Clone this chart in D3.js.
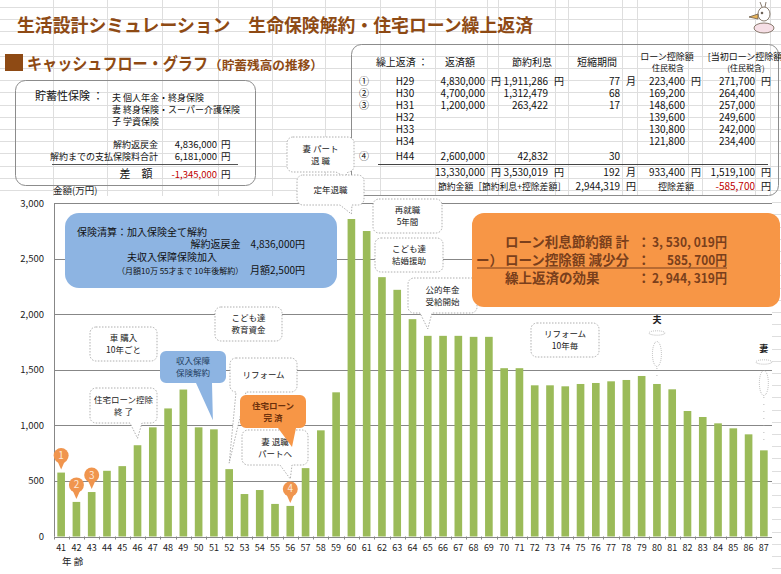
<!DOCTYPE html>
<html>
<head>
<meta charset="utf-8">
<script src="https://cdn.jsdelivr.net/npm/d3@7"></script>
<style>
  html, body { margin: 0; padding: 0; background: #fff; }
  svg { display: block; font-family: "Noto Sans CJK JP", "Noto Sans", sans-serif; }
</style>
</head>
<body>
<div id="chart"></div>
<script>
// ages (x categories) and savings balance in 万円
const ages = [41,42,43,44,45,46,47,48,49,50,51,52,53,54,55,56,57,58,59,60,61,62,63,64,
              65,66,67,68,69,70,71,72,73,74,75,76,77,78,79,80,81,82,83,84,85,86,87];
const balance = [575,311,400,591,633,821,982,1152,1322,982,964,606,382,418,293,275,615,955,1297,2856,
                 2748,2333,2219,1955,1805,1805,1805,1796,1796,1514,1514,1360,1360,1351,1372,1381,1396,1408,1444,1372,
                 1324,1129,1075,1018,973,919,775];
const yTicks = [0, 500, 1000, 1500, 2000, 2500, 3000];

// prepayment table
const repayMarks = ["①","②","③","","","","④"];
const repayYears = ["H29","H30","H31","H32","H33","H34","H44"];
const repayAmount = ["4,830,000","4,700,000","1,200,000","","","","2,600,000"];
const savedInterest = ["1,911,286","1,312,479","263,422","","","","42,832"];
const shortenMonths = ["77","68","17","","","","30"];
const loanDeduction = ["223,400","169,200","148,600","139,600","130,800","121,800",""];
const initialDeduction = ["271,700","264,400","257,000","249,600","242,000","234,400",""];
const repayTotals = ["13,330,000","3,530,019","192","933,400","1,519,100"];

// pin markers (repayment number -> age)
const pinLabels = ["1","2","3","4"];
const pinAges = [41,42,43,56];

const W = 781, H = 574;
const brown = "#8e4a14";
const svg = d3.select("#chart").append("svg").attr("width", W).attr("height", H);

// spreadsheet cell grid in the background
const gridCols = [53,107,162,218,272,325,380,435,487,498,555,568,622,637,688,702,755,770];
const cells = svg.append("g").attr("stroke", "#dedede").attr("stroke-width", 1);
gridCols.forEach(c => cells.append("line").attr("x1", c + 0.5).attr("x2", c + 0.5).attr("y1", 0).attr("y2", H));
d3.range(7, H, 12.2).forEach(r => cells.append("line").attr("x1", 0).attr("x2", W).attr("y1", Math.round(r) + 0.5).attr("y2", Math.round(r) + 0.5));
// chart area is white
svg.append("rect").attr("x", 0).attr("y", 196).attr("width", 772).attr("height", H - 196).attr("fill", "#fff");

// titles
svg.append("text").attr("x", 17).attr("y", 32).attr("fill", brown).attr("font-size", 18).attr("font-weight", 700)
  .attr("textLength", 516).attr("lengthAdjust", "spacingAndGlyphs")
  .text("生活設計シミュレーション　生命保険解約・住宅ローン繰上返済");
svg.append("rect").attr("x", 5).attr("y", 54).attr("width", 18).attr("height", 17).attr("fill", brown);
svg.append("text").attr("x", 27).attr("y", 70).attr("fill", brown).attr("font-weight", 700).attr("font-size", 17)
  .attr("textLength", 181).attr("lengthAdjust", "spacingAndGlyphs").text("キャッシュフロー・グラフ");
svg.append("text").attr("x", 209).attr("y", 70).attr("fill", brown).attr("font-weight", 700).attr("font-size", 12.5)
  .attr("textLength", 114).attr("lengthAdjust", "spacingAndGlyphs").text("（貯蓄残高の推移）");

// little mascot, top right
const m = svg.append("g").attr("transform", "translate(762,20)").attr("fill", "#fff").attr("stroke", "#6b5a4a").attr("stroke-width", 0.8);
m.append("ellipse").attr("cx", 2).attr("cy", 8).attr("rx", 10).attr("ry", 5).attr("fill", "#f6dfe6");
m.append("ellipse").attr("cx", 2).attr("cy", -6).attr("rx", 6).attr("ry", 7);
m.append("path").attr("d", "M-4,-6 L-13,-3 L-4,-1 Z").attr("fill", "#e8b45a");
m.append("path").attr("d", "M0,-13 L-2,-18 M3,-13 L4,-18").attr("fill", "none");
m.append("circle").attr("cx", 0).attr("cy", -7).attr("r", 0.9).attr("fill", "#333");

// ---- left info box
svg.append("rect").attr("x", 15.5).attr("y", 80.5).attr("width", 240).attr("height", 105).attr("rx", 10)
  .attr("fill", "none").attr("stroke", "#8c8c8c");
const lb = svg.append("g").attr("font-size", 9).attr("fill", "#111");
lb.append("text").attr("x", 35).attr("y", 100).attr("font-size", 11).text("貯蓄性保険 ：");
[["夫  個人年金・終身保険", 101], ["妻  終身保険・スーパー介護保険", 113], ["子  学資保険", 125]]
  .forEach(([t, y]) => lb.append("text").attr("x", 112).attr("y", y).text(t));
[["解約返戻金", "4,836,000", 148, "#111"], ["解約までの支払保険料合計", "6,181,000", 160, "#111"], ["差　額", "-1,345,000", 178, "#c00000"]]
  .forEach(([t, v, y, col], i) => {
    lb.append("text").attr("x", i === 2 ? 136 : 158).attr("y", y).attr("text-anchor", i === 2 ? "middle" : "end")
      .attr("font-size", i === 2 ? 11 : 9).text(t);
    lb.append("text").attr("x", 217).attr("y", y).attr("text-anchor", "end").attr("font-size", 9.5).attr("fill", col).text(v);
    lb.append("text").attr("x", 221).attr("y", y).attr("font-size", 9.5).text("円");
  });
lb.append("line").attr("x1", 52).attr("x2", 238).attr("y1", 164.5).attr("y2", 164.5).attr("stroke", "#555");

// ---- right table
svg.append("rect").attr("x", 351.5).attr("y", 44.5).attr("width", 427).attr("height", 151).attr("rx", 10)
  .attr("fill", "none").attr("stroke", "#8c8c8c");
const tb = svg.append("g").attr("font-size", 10).attr("fill", "#111");
const hdr = (t, x, y, fs) => tb.append("text").attr("x", x).attr("y", y).attr("text-anchor", "middle").attr("font-size", fs || 10).text(t);
hdr("繰上返済 ：", 402, 66); hdr("返済額", 460, 66); hdr("節約利息", 532, 66); hdr("短縮期間", 597, 66);
hdr("ローン控除額", 667, 60, 9); hdr("住民税含", 668, 71, 8);
hdr("[当初ローン控除額", 745, 60, 9); hdr("(住民税含)", 746, 71, 8);
const rowY = [85, 97, 109, 121, 133, 145, 160];
const valCols = [[repayAmount, 485, "円"], [savedInterest, 548, "円"], [shortenMonths, 620, "月"], [loanDeduction, 685, "円"], [initialDeduction, 755, "円"]];
repayYears.forEach((yr, i) => {
  tb.append("text").attr("x", 364).attr("y", rowY[i]).attr("text-anchor", "middle").attr("font-size", 10).text(repayMarks[i]);
  tb.append("text").attr("x", 405).attr("y", rowY[i]).attr("text-anchor", "middle").text(yr);
  valCols.forEach(([arr, x, unit]) => {
    if (arr[i]) tb.append("text").attr("x", x).attr("y", rowY[i]).attr("text-anchor", "end").text(arr[i]);
    if (i === 0) tb.append("text").attr("x", x + 6).attr("y", rowY[i]).text(unit);
  });
});
tb.append("line").attr("x1", 378).attr("x2", 768).attr("y1", 164.5).attr("y2", 164.5).attr("stroke", "#444");
valCols.forEach(([arr, x, unit], j) => {
  tb.append("text").attr("x", x).attr("y", 176).attr("text-anchor", "end").text(repayTotals[j]);
  tb.append("text").attr("x", x + 6).attr("y", 176).text(unit);
});
tb.append("text").attr("x", 438).attr("y", 190).attr("font-size", 9).attr("textLength", 128).attr("lengthAdjust", "spacingAndGlyphs")
  .text("節約金額［節約利息+控除差額］");
tb.append("text").attr("x", 620).attr("y", 190).attr("text-anchor", "end").text("2,944,319");
tb.append("text").attr("x", 626).attr("y", 190).text("円");
tb.append("text").attr("x", 676).attr("y", 190).attr("text-anchor", "middle").attr("font-size", 9).text("控除差額");
tb.append("text").attr("x", 755).attr("y", 190).attr("text-anchor", "end").attr("fill", "#c00000").text("-585,700");
tb.append("text").attr("x", 761).attr("y", 190).text("円");

// ---- chart
const x = d3.scaleBand().domain(ages).range([53.5, 771.5]).paddingInner(0.5).paddingOuter(0.25);
const y = d3.scaleLinear().domain([0, 3000]).range([536.5, 203]);
const cx = a => x(a) + x.bandwidth() / 2;
const val = a => balance[ages.indexOf(a)];

const g = svg.append("g");
g.append("g").selectAll("line").data(yTicks).join("line")
  .attr("x1", 54).attr("x2", 772).attr("y1", d => Math.round(y(d)) + 0.5).attr("y2", d => Math.round(y(d)) + 0.5)
  .attr("stroke", "#878787");
g.append("line").attr("x1", 54.5).attr("x2", 54.5).attr("y1", y(3000)).attr("y2", y(0)).attr("stroke", "#878787");
g.append("g").selectAll("text").data(yTicks).join("text")
  .attr("x", 44).attr("y", d => y(d) + 3.5).attr("text-anchor", "end").attr("font-size", 9.5).attr("fill", "#222")
  .text(d3.format(","));
svg.append("text").attr("x", 53).attr("y", 194).attr("font-size", 9.5).attr("fill", "#222").text("金額(万円)");

g.append("g").selectAll("rect").data(ages).join("rect")
  .attr("x", d => x(d)).attr("width", x.bandwidth())
  .attr("y", d => y(val(d))).attr("height", d => y(0) - y(val(d)))
  .attr("fill", "#9bbb59");

// x ticks + labels
const step = x.step();
g.append("g").selectAll("line").data(ages).join("line")
  .attr("x1", d => Math.round(cx(d) - step / 2) + 0.5).attr("x2", d => Math.round(cx(d) - step / 2) + 0.5)
  .attr("y1", y(0)).attr("y2", y(0) + 3).attr("stroke", "#878787");
g.append("g").selectAll("text").data(ages).join("text")
  .attr("x", d => cx(d)).attr("y", 551).attr("text-anchor", "middle").attr("font-size", 9).attr("fill", "#222").text(d => d);
svg.append("text").attr("x", 62).attr("y", 565).attr("font-size", 9.5).attr("fill", "#222").text("年 齢");

// ---- annotation bubbles
function bubble(bx, by, w, h, r, tail) {
  const p = d3.path();
  p.moveTo(bx + r, by);
  p.lineTo(bx + w - r, by); p.arcTo(bx + w, by, bx + w, by + r, r);
  p.lineTo(bx + w, by + h - r); p.arcTo(bx + w, by + h, bx + w - r, by + h, r);
  if (tail) { p.lineTo(tail[1], by + h); p.lineTo(tail[2], tail[3]); p.lineTo(tail[0], by + h); }
  p.lineTo(bx + r, by + h); p.arcTo(bx, by + h, bx, by + h - r, r);
  p.lineTo(bx, by + r); p.arcTo(bx, by, bx + r, by, r);
  p.closePath();
  return p.toString();
}
const notes = [
  { lines: ["妻  パート", "退  職"], box: [287, 137, 67, 35], tail: [336, 348, 345, 177] },
  { lines: ["定年退職"], box: [297, 175, 67, 30], tail: [340, 352, cx(60), y(val(60)) - 5] },
  { lines: ["再就職", "5年間"], box: [373, 199, 69, 34] },
  { lines: ["こども達", "結婚援助"], box: [375, 238, 68, 34] },
  { lines: ["公的年金", "受給開始"], box: [408, 278, 69, 35], tail: [420, 432, cx(65), y(val(65)) - 7] },
  { lines: ["リフォーム", "10年毎"], box: [531, 323, 68, 34] },
  { lines: ["車  購入", "10年ごと"], box: [90, 327, 67, 34] },
  { lines: ["こども達", "教育資金"], box: [215, 307, 67, 34] },
  { lines: ["リフォーム"], box: [230, 358, 67, 34], tail: [236, 246, cx(52), y(val(52)) - 6] },
  { lines: ["住宅ローン控除", "終  了"], box: [90, 388, 67, 35], tail: [130, 142, cx(46), y(val(46)) - 7] },
  { lines: ["妻  退職", "パートへ"], box: [242, 430, 66, 35], tail: [280, 292, cx(56), y(val(56)) - 27] },
  { lines: ["収入保障", "保険解約"], box: [160, 351, 66, 32], tail: [196, 212, cx(51) - 1, y(val(51)) - 9], fill: "#8db4e2", color: "#24405f" },
  { lines: ["住宅ローン", "完  済"], box: [240, 395, 66, 33], tail: [278, 296, 292, 447], fill: "#f79646", color: "#6b300c", bold: true }
];
notes.forEach(n => {
  const [bx, by, w, h] = n.box;
  svg.append("path").attr("d", bubble(bx, by, w, h, 6, n.tail))
    .attr("fill", n.fill || "#fff").attr("stroke", n.fill ? "none" : "#9a9a9a")
    .attr("stroke-width", 0.8).attr("stroke-dasharray", n.fill ? null : "1.5,1.5");
  const t = svg.append("text").attr("text-anchor", "middle").attr("font-size", 8.5)
    .attr("fill", n.color || "#222").attr("font-weight", n.bold ? 700 : 400);
  const y0 = by + h / 2 - (n.lines.length - 1) * 6 + 3;
  n.lines.forEach((l, i) => t.append("tspan").attr("x", bx + w / 2).attr("y", y0 + i * 12).text(l));
});

// big blue box
svg.append("rect").attr("x", 65).attr("y", 213).attr("width", 272).attr("height", 75).attr("rx", 14).attr("fill", "#8db4e2");
const bt = svg.append("g").attr("fill", "#111").attr("font-size", 10);
bt.append("text").attr("x", 77).attr("y", 236).text("保険清算：加入保険全て解約");
bt.append("text").attr("x", 305).attr("y", 248).attr("text-anchor", "end").text("解約返戻金　4,836,000円");
bt.append("text").attr("x", 127).attr("y", 261).text("夫収入保障保険加入");
bt.append("text").attr("x", 117).attr("y", 274).attr("font-size", 8).text("（月額10万 55才まで 10年後解約）");
bt.append("text").attr("x", 305).attr("y", 274).attr("text-anchor", "end").text("月額2,500円");

// big orange box
svg.append("rect").attr("x", 472).attr("y", 213).attr("width", 308).attr("height", 94).attr("rx", 12).attr("fill", "#f79646");
const ot = svg.append("g").attr("fill", "#7a3f1c").attr("font-size", 13.5).attr("font-weight", 700);
[["ローン利息節約額  計", "3, 530, 019円", 247, 75], ["ローン控除額  減少分", "585, 700円", 265, 60], ["繰上返済の効果", "2, 944, 319円", 283, 75]]
  .forEach(([l, v, yy, len]) => {
    ot.append("text").attr("x", 505).attr("y", yy).text(l);
    ot.append("text").attr("x", 637).attr("y", yy).text("：");
    ot.append("text").attr("x", 727 - len).attr("y", yy).attr("textLength", len).attr("lengthAdjust", "spacingAndGlyphs").text(v);
  });
ot.append("text").attr("x", 503).attr("y", 265).attr("text-anchor", "end").text("ー）");
svg.append("line").attr("x1", 477).attr("x2", 727).attr("y1", 268).attr("y2", 268).attr("stroke", "#7a3f1c").attr("stroke-width", 1.2);

// numbered pins
pinAges.forEach((a, i) => {
  const px = cx(a), py = y(val(a)) - 17;
  svg.append("path").attr("d", `M${px - 4},${py + 5} L${px},${py + 14} L${px + 4},${py + 5} Z`).attr("fill", "#f0954e");
  svg.append("circle").attr("cx", px).attr("cy", py).attr("r", 7.5).attr("fill", "#f0954e");
  svg.append("text").attr("x", px).attr("y", py + 3.5).attr("text-anchor", "middle").attr("font-size", 10)
    .attr("fill", "#fde9d9").text(pinLabels[i]);
});

// ghost icons for husband / wife
[["夫", 80, 323], ["妻", 87, 352]].forEach(([lbl, a, ty]) => {
  const gx = cx(a);
  const gg = svg.append("g").attr("fill", "none").attr("stroke", "#a8a8a8").attr("stroke-width", 0.8).attr("stroke-dasharray", "1,1");
  svg.append("text").attr("x", gx).attr("y", ty).attr("text-anchor", "middle").attr("font-size", 9).attr("font-weight", 700).attr("fill", "#222").text(lbl);
  gg.append("ellipse").attr("cx", gx).attr("cy", ty + 10).attr("rx", 8).attr("ry", 2.2);
  gg.append("ellipse").attr("cx", gx).attr("cy", ty + 31).attr("rx", 4.5).attr("ry", 12.5);
  gg.append("line").attr("x1", gx).attr("x2", gx).attr("y1", ty + 45).attr("y2", y(val(a)) - 6).attr("stroke-dasharray", "1,6");
});
</script>
</body>
</html>
